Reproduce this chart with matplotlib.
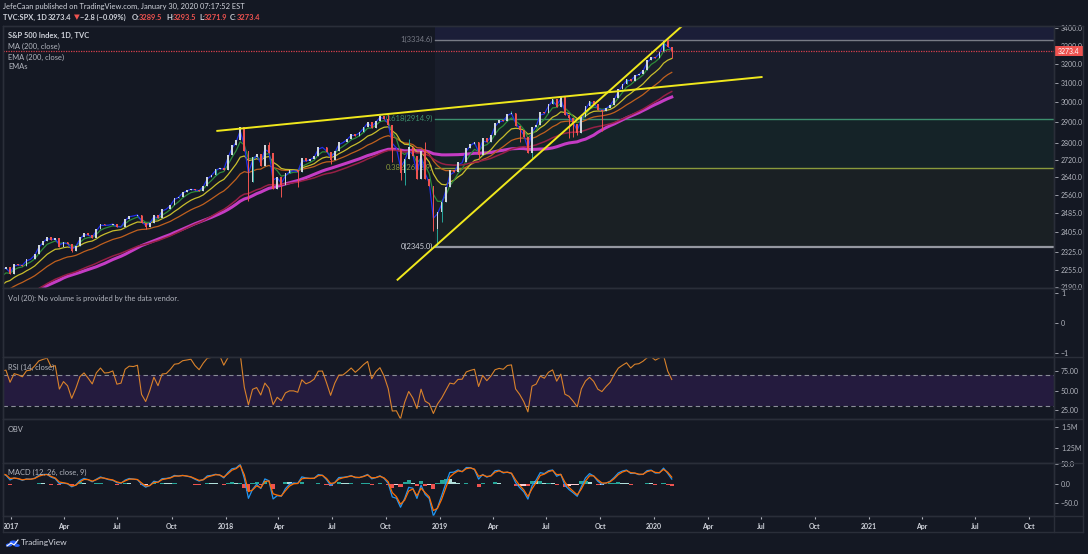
import numpy as np
import pandas as pd
import matplotlib
matplotlib.use("Agg")
import matplotlib.pyplot as plt
import matplotlib.dates as mdates
from matplotlib.lines import Line2D
from matplotlib.patches import Rectangle, Circle
from matplotlib.ticker import FixedLocator, NullLocator, FuncFormatter

plt.rcParams["font.family"] = ["Lato", "DejaVu Sans"]

W, H = 1088, 554
BG = "#141823"
GRID = "#2a2e39"
TXT = "#b2b5be"
WHITE = "#d1d4dc"
RED = "#ef5350"
TEAL = "#26a69a"

# weekly S&P 500 closes (week ending Friday); 2016 only feeds the averages
closes_2016 = [1922.0, 1880.3, 1906.9, 1940.2, 1880.1, 1864.8, 1917.8, 1948.1,
               2000.0, 2022.2, 2049.6, 2035.9, 2072.8, 2047.6, 2080.7, 2091.6,
               2065.3, 2057.1, 2046.6, 2052.3, 2099.1, 2099.1, 2096.1, 2071.2,
               2037.4, 2103.0, 2129.9, 2161.7, 2175.0, 2173.6, 2182.9, 2184.1,
               2183.9, 2169.0, 2180.0, 2127.8, 2139.2, 2164.7, 2168.3, 2153.7,
               2133.0, 2141.2, 2126.4, 2085.2, 2164.5, 2181.9, 2213.4, 2192.0,
               2259.5, 2258.1, 2263.8, 2238.8]
closes_2017 = [2277.0, 2274.6, 2271.3, 2294.7, 2297.4, 2316.1, 2351.2, 2367.3,
               2383.1, 2372.6, 2378.3, 2344.0, 2362.7, 2355.5, 2329.0, 2348.7,
               2384.2, 2399.3, 2390.9, 2381.7, 2415.8, 2439.1, 2431.8, 2433.2,
               2438.3, 2423.4, 2425.2, 2459.3, 2472.5, 2472.1, 2476.8, 2441.3,
               2425.6, 2443.1, 2476.6, 2461.4, 2500.2, 2502.2, 2519.4, 2549.3,
               2553.2, 2575.2, 2581.1, 2587.8, 2582.3, 2578.9, 2602.4, 2642.2,
               2651.5, 2675.8, 2683.3, 2673.6]
closes_2018 = [2743.2, 2786.2, 2810.3, 2872.9, 2762.1, 2619.6, 2732.2, 2747.3,
               2691.3, 2786.6, 2752.0, 2588.3, 2640.9, 2604.5, 2656.3, 2670.1,
               2669.9, 2663.4, 2727.7, 2713.0, 2721.3, 2734.6, 2779.0, 2779.7,
               2754.9, 2718.4, 2759.8, 2801.3, 2801.8, 2818.8, 2840.4, 2833.3,
               2850.1, 2874.7, 2901.5, 2871.7, 2905.0, 2929.7, 2914.0, 2885.6,
               2767.1, 2767.8, 2658.7, 2723.1, 2781.0, 2736.3, 2632.6, 2760.2,
               2633.1, 2600.0, 2416.6, 2485.7]
closes_2019 = [2531.9, 2596.3, 2670.7, 2664.8, 2706.5, 2707.9, 2775.6, 2792.7,
               2803.7, 2743.1, 2822.5, 2800.7, 2834.4, 2892.7, 2907.4, 2905.0,
               2939.9, 2945.6, 2881.4, 2859.5, 2826.1, 2752.1, 2873.3, 2887.0,
               2950.5, 2941.8, 2990.4, 3013.8, 2976.6, 3025.9, 2932.1, 2918.7,
               2888.7, 2847.1, 2926.5, 2978.7, 3007.4, 2992.1, 2961.8, 2952.0,
               2970.3, 2986.2, 3022.6, 3066.9, 3093.1, 3120.5, 3110.3, 3141.0,
               3145.9, 3168.8, 3221.2, 3240.0]
closes_2020 = [3234.9, 3265.4, 3329.6, 3295.5, 3273.4]

# weeks whose wick reaches well beyond the body
wick_lows = {"2016-11-04": 2083.8, "2017-04-14": 2322.3, "2017-08-18": 2417.3,
             "2018-02-09": 2532.7, "2018-03-23": 2585.9, "2018-04-06": 2553.8,
             "2018-05-04": 2594.6, "2018-06-29": 2698.7, "2018-10-12": 2710.5,
             "2018-10-26": 2628.2, "2018-11-02": 2603.5, "2018-11-23": 2631.1,
             "2018-12-21": 2408.6, "2018-12-28": 2346.6, "2019-01-04": 2444.0,
             "2019-03-08": 2722.3, "2019-05-17": 2801.4, "2019-06-07": 2728.8,
             "2019-08-09": 2822.1, "2019-08-16": 2825.7, "2019-08-23": 2834.0,
             "2019-10-04": 2855.9, "2020-01-31": 3234.5}
wick_highs = {"2018-01-26": 2872.9, "2018-02-02": 2870.6, "2018-03-16": 2801.9,
              "2018-09-21": 2940.9, "2018-10-05": 2939.9, "2018-11-09": 2815.2,
              "2018-12-07": 2800.2, "2019-05-03": 2954.1, "2019-07-26": 3027.9,
              "2020-01-24": 3337.8}

# drawings on the chart
fib_start = "2018-12-24"
fib_low, fib_high = 2345.0, 3334.6
fib_levels = [0, 0.382, 0.618, 1]
fib_labels = ["0(2345.0)", "0.382(2682.9)", "0.618(2914.9)", "1(3334.6)"]
fib_colors = ["#9598a1", "#8a9a3c", "#3d8f6e", "#787b86"]
fib_fills = ["#1a2024", "#152328", "#191d2b", "#1b1e38"]
trend_upper = [("2017-12-18", 2856), ("2020-07-02", 3130)]
trend_rising = [("2018-10-21", 2217), ("2020-03-19", 3508)]

price_ticks = [3400, 3300, 3200, 3100, 3000, 2900, 2800, 2720, 2640, 2560,
               2485, 2405, 2325, 2255, 2190]
last_price = 3273.4

closes = closes_2016 + closes_2017 + closes_2018 + closes_2019 + closes_2020
dates = pd.date_range("2016-01-08", periods=len(closes), freq="W-FRI")
cs = pd.Series(closes, index=dates)
x = mdates.date2num(dates)
c = np.array(closes)
o = np.r_[c[0], c[:-1]]
hi = np.maximum(o, c)
lo = np.minimum(o, c)
for d, v in wick_lows.items():
    lo[dates.get_indexer([pd.Timestamp(d)], method="nearest")[0]] = v
for d, v in wick_highs.items():
    hi[dates.get_indexer([pd.Timestamp(d)], method="nearest")[0]] = v

# daily indicator settings expressed in weeks
ma200 = cs.rolling(40).mean()
ema200 = cs.ewm(span=40, adjust=False).mean()
emas = [(1.6, "#2030e8"), (4.2, "#2e8b3a"), (10, "#c8be2c"), (20, "#c0601e")]
delta = cs.diff()
gain = delta.clip(lower=0).ewm(alpha=1 / 5, adjust=False).mean()
loss = (-delta.clip(upper=0)).ewm(alpha=1 / 5, adjust=False).mean()
rsi = 100 - 100 / (1 + gain / loss)
macd = cs.ewm(span=2.4, adjust=False).mean() - cs.ewm(span=5.2, adjust=False).mean()
signal = macd.ewm(span=1.8, adjust=False).mean()
hist = macd - signal

x0 = mdates.date2num(pd.Timestamp("2016-12-18"))
x1 = mdates.date2num(pd.Timestamp("2021-11-12"))

fig = plt.figure(figsize=(W / 100, H / 100), dpi=100, facecolor=BG)


def px(xp, yp):
    return xp / W, 1 - yp / H


def pane(top, bottom):
    ax = fig.add_axes([3 / W, 1 - bottom / H, 1051 / W, (bottom - top) / H], facecolor=BG)
    for s in ax.spines.values():
        s.set_color(GRID)
        s.set_linewidth(1)
    ax.yaxis.tick_right()
    ax.tick_params(axis="y", colors=TXT, labelsize=5, length=3, pad=2, width=0.6)
    ax.tick_params(axis="x", length=0, labelbottom=False)
    ax.set_xlim(x0, x1)
    return ax


# price pane
ax = pane(26, 288)
ax.set_yscale("log")
ax.set_ylim(2186, 3414)
ax.yaxis.set_major_locator(FixedLocator(price_ticks))
ax.yaxis.set_minor_locator(NullLocator())
ax.yaxis.set_major_formatter(FuncFormatter(lambda v, p: f"{v:.1f}"))

fs = mdates.date2num(pd.Timestamp(fib_start))
span = np.log(fib_high / fib_low)
fib_prices = [fib_low * np.exp(l * span) for l in fib_levels] + [fib_low * np.exp(1.618 * span)]
for i in range(4):
    ax.fill_between([fs, x1], fib_prices[i], fib_prices[i + 1], color=fib_fills[i], lw=0, zorder=0.5)
for lev, p, col, lab in zip(fib_levels, fib_prices, fib_colors, fib_labels):
    ax.plot([fs, x1], [p, p], color=col, lw=1.6 if lev == 0 else 1, zorder=1)
    ax.annotate(lab, (fs, p), xytext=(-1.5, 0), textcoords="offset points", ha="right",
                va="center", fontsize=5.5, color=WHITE if lev == 0 else col, zorder=1)

ax.plot(x, ma200, color="#c43cc4", lw=2.2, zorder=2)
ax.plot(x, ema200, color="#962045", lw=1.1, zorder=2.1)
for sp, col in emas[::-1]:
    ax.plot(x, cs.ewm(span=sp, adjust=False).mean(), color=col, lw=0.9, zorder=2)

up = c >= o
ax.vlines(x[up], lo[up], hi[up], color=TEAL, lw=0.7, zorder=3)
ax.vlines(x[~up], lo[~up], hi[~up], color=RED, lw=0.7, zorder=3)
ax.bar(x[up], (c - o)[up], bottom=o[up], width=3, color="#cfd6dc", lw=0, zorder=3)
ax.bar(x[~up], (o - c)[~up], bottom=c[~up], width=3, color=RED, lw=0, zorder=3)

for line in (trend_upper, trend_rising):
    tx = [mdates.date2num(pd.Timestamp(d)) for d, _ in line]
    ty = [v for _, v in line]
    ax.plot(tx, ty, color="#f0e81c", lw=1.4, zorder=5)
ax.axhline(last_price, color="#d8404c", lw=0.9, ls=(0, (1, 1)), zorder=4)

# volume pane
axv = pane(288, 357)
axv.set_ylim(-1.13, 1.17)
axv.set_yticks([1, 0, -1])
axv.set_yticklabels(["1", "0", "\u22121"])

# RSI pane
axr = pane(357, 419)
axr.set_ylim(13.5, 93)
axr.set_yticks([75, 50, 25])
axr.set_yticklabels(["75.00", "50.00", "25.00"])
axr.axhspan(30, 70, color="#241b3e", lw=0, zorder=0.5)
for lv in (70, 30):
    axr.axhline(lv, color="#8a8d98", lw=0.8, ls=(0, (4, 3)), zorder=1)
axr.plot(x, rsi, color="#d9822b", lw=0.8, zorder=2)

# OBV pane
axo = pane(419, 463)
axo.set_ylim(1.071e6, 1.595e6)
axo.set_yticks([1.5e6, 1.25e6])
axo.set_yticklabels(["1.5M", "1.25M"])

# MACD pane
axm = pane(463, 516)
axm.set_ylim(-82, 53)
axm.set_yticks([50, 0, -50])
axm.set_yticklabels(["50.0", "0.0", "\u221250.0"])
hv = hist.values
prev = np.r_[0, hv[:-1]]
hcol = np.where(hv >= 0, np.where(hv >= prev, TEAL, "#b2dfdb"),
                np.where(hv < prev, RED, "#ffcdd2"))
axm.bar(x, hv, width=7, color=hcol, lw=0, zorder=1)
axm.plot(x, macd, color="#2196f3", lw=0.9, zorder=2)
axm.plot(x, signal, color="#ff6d00", lw=0.9, zorder=2)

ticks = pd.date_range("2017-01-01", "2021-10-01", freq="QS")
axm.set_xticks(mdates.date2num(ticks))
axm.set_xticklabels([str(t.year) if t.month == 1 else t.strftime("%b") for t in ticks])
axm.tick_params(axis="x", length=2, color=TXT, labelbottom=True, labelsize=5,
                labelcolor=WHITE, pad=3)
for t in axm.get_xticklabels():
    t.set_fontweight("bold")

# frame lines around the price scale
for yp in (26, 288, 357, 419, 463, 516, 532):
    fig.add_artist(Line2D([3 / W, 1083 / W], [1 - yp / H] * 2, color=GRID, lw=1))
for xp in (3, 1054, 1083):
    fig.add_artist(Line2D([xp / W] * 2, [1 - 26 / H, 1 - 532 / H], color=GRID, lw=1))

# last price tag
fig.add_artist(Rectangle(px(1054, 56), 30 / W, 10 / H, color=RED, lw=0))
fig.text(*px(1069, 51), f"{last_price:.1f}", color="white", fontsize=5, ha="center", va="center")

# header
fig.text(*px(3, 6), "JefeCaan published on TradingView.com, January 30, 2020 07:17:52 EST",
         color=WHITE, fontsize=5.4, va="center")
head = [("TVC:SPX, 1D", 3, WHITE), ("3273.4", 48, WHITE), ("\u25bc", 74, RED),
        ("\u22122.8 (\u22120.09%)", 80, WHITE), ("O:", 132, WHITE), ("3289.5", 139, RED),
        ("H:", 166, WHITE), ("3293.5", 173, RED), ("L:", 199, WHITE), ("3271.9", 204, RED),
        ("C:", 230, WHITE), ("3273.4", 237, RED)]
for s, xp, col in head:
    fig.text(*px(xp, 17), s, color=col, fontsize=5.4, fontweight="bold", va="center")

fig.text(*px(8, 35), "S&P 500 Index, 1D, TVC", color=WHITE, fontsize=5.4, fontweight="bold", va="center")
for s, yp in (("MA (200, close)", 46), ("EMA (200, close)", 57), ("EMAs", 67),
              ("Vol (20): No volume is provided by the data vendor.", 298),
              ("RSI (14, close)", 367), ("OBV", 429), ("MACD (12, 26, close, 9)", 472)):
    fig.text(*px(8, yp), s, color=TXT, fontsize=5.4, va="center")

# logo
for cx, cy, r in ((9, 545, 3.2), (13.5, 542.5, 4), (17, 545.5, 2.8)):
    fig.add_artist(Circle(px(cx, cy), r / W, color="#2962ff", lw=0))
fig.add_artist(Line2D([px(7, 546)[0], px(11, 543)[0], px(14, 545)[0], px(18, 540)[0]],
                      [px(7, 546)[1], px(11, 543)[1], px(14, 545)[1], px(18, 540)[1]],
                      color="white", lw=0.8))
fig.text(*px(21, 543), "TradingView", color=WHITE, fontsize=6, va="center")

fig.savefig("out.png", dpi=100, facecolor=BG)
